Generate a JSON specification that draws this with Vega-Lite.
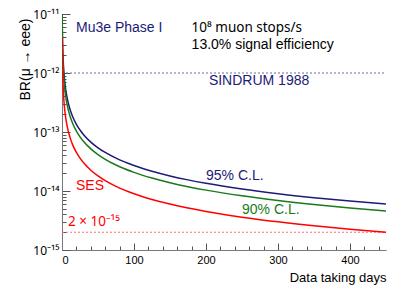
{
  "$schema": "https://vega.github.io/schema/vega-lite/v6.json",
  "width": 324,
  "height": 236,
  "autosize": {"type": "none"},
  "padding": {"left": 62, "top": 14, "right": 21, "bottom": 48},
  "background": "white",
  "config": {
    "view": {"stroke": null},
    "font": "Liberation Sans",
    "axis": {"labelFont": "Liberation Sans", "titleFont": "Liberation Sans", "grid": false}
  },
  "datasets": {
    "curves": [
      {"series": "95% C.L.", "days": 0.27, "br": 1e-11},
      {"series": "95% C.L.", "days": 0.35, "br": 7.714e-12},
      {"series": "95% C.L.", "days": 0.5, "br": 5.4e-12},
      {"series": "95% C.L.", "days": 0.7, "br": 3.857e-12},
      {"series": "95% C.L.", "days": 1, "br": 2.7e-12},
      {"series": "95% C.L.", "days": 1.5, "br": 1.8e-12},
      {"series": "95% C.L.", "days": 2, "br": 1.35e-12},
      {"series": "95% C.L.", "days": 3, "br": 9e-13},
      {"series": "95% C.L.", "days": 4, "br": 6.75e-13},
      {"series": "95% C.L.", "days": 5, "br": 5.4e-13},
      {"series": "95% C.L.", "days": 6, "br": 4.5e-13},
      {"series": "95% C.L.", "days": 7.5, "br": 3.6e-13},
      {"series": "95% C.L.", "days": 10, "br": 2.7e-13},
      {"series": "95% C.L.", "days": 12, "br": 2.25e-13},
      {"series": "95% C.L.", "days": 15, "br": 1.8e-13},
      {"series": "95% C.L.", "days": 20, "br": 1.35e-13},
      {"series": "95% C.L.", "days": 25, "br": 1.08e-13},
      {"series": "95% C.L.", "days": 30, "br": 9e-14},
      {"series": "95% C.L.", "days": 40, "br": 6.75e-14},
      {"series": "95% C.L.", "days": 50, "br": 5.4e-14},
      {"series": "95% C.L.", "days": 60, "br": 4.5e-14},
      {"series": "95% C.L.", "days": 75, "br": 3.6e-14},
      {"series": "95% C.L.", "days": 100, "br": 2.7e-14},
      {"series": "95% C.L.", "days": 125, "br": 2.16e-14},
      {"series": "95% C.L.", "days": 150, "br": 1.8e-14},
      {"series": "95% C.L.", "days": 175, "br": 1.543e-14},
      {"series": "95% C.L.", "days": 200, "br": 1.35e-14},
      {"series": "95% C.L.", "days": 250, "br": 1.08e-14},
      {"series": "95% C.L.", "days": 300, "br": 9e-15},
      {"series": "95% C.L.", "days": 350, "br": 7.714e-15},
      {"series": "95% C.L.", "days": 400, "br": 6.75e-15},
      {"series": "95% C.L.", "days": 450, "br": 6e-15},
      {"series": "90% C.L.", "days": 0.21, "br": 9.857e-12},
      {"series": "90% C.L.", "days": 0.25, "br": 8.28e-12},
      {"series": "90% C.L.", "days": 0.35, "br": 5.914e-12},
      {"series": "90% C.L.", "days": 0.5, "br": 4.14e-12},
      {"series": "90% C.L.", "days": 0.7, "br": 2.957e-12},
      {"series": "90% C.L.", "days": 1, "br": 2.07e-12},
      {"series": "90% C.L.", "days": 1.5, "br": 1.38e-12},
      {"series": "90% C.L.", "days": 2, "br": 1.035e-12},
      {"series": "90% C.L.", "days": 3, "br": 6.9e-13},
      {"series": "90% C.L.", "days": 4, "br": 5.175e-13},
      {"series": "90% C.L.", "days": 5, "br": 4.14e-13},
      {"series": "90% C.L.", "days": 6, "br": 3.45e-13},
      {"series": "90% C.L.", "days": 7.5, "br": 2.76e-13},
      {"series": "90% C.L.", "days": 10, "br": 2.07e-13},
      {"series": "90% C.L.", "days": 12, "br": 1.725e-13},
      {"series": "90% C.L.", "days": 15, "br": 1.38e-13},
      {"series": "90% C.L.", "days": 20, "br": 1.035e-13},
      {"series": "90% C.L.", "days": 25, "br": 8.28e-14},
      {"series": "90% C.L.", "days": 30, "br": 6.9e-14},
      {"series": "90% C.L.", "days": 40, "br": 5.175e-14},
      {"series": "90% C.L.", "days": 50, "br": 4.14e-14},
      {"series": "90% C.L.", "days": 60, "br": 3.45e-14},
      {"series": "90% C.L.", "days": 75, "br": 2.76e-14},
      {"series": "90% C.L.", "days": 100, "br": 2.07e-14},
      {"series": "90% C.L.", "days": 125, "br": 1.656e-14},
      {"series": "90% C.L.", "days": 150, "br": 1.38e-14},
      {"series": "90% C.L.", "days": 175, "br": 1.183e-14},
      {"series": "90% C.L.", "days": 200, "br": 1.035e-14},
      {"series": "90% C.L.", "days": 250, "br": 8.28e-15},
      {"series": "90% C.L.", "days": 300, "br": 6.9e-15},
      {"series": "90% C.L.", "days": 350, "br": 5.914e-15},
      {"series": "90% C.L.", "days": 400, "br": 5.175e-15},
      {"series": "90% C.L.", "days": 450, "br": 4.6e-15},
      {"series": "SES", "days": 0.225, "br": 4e-12},
      {"series": "SES", "days": 0.25, "br": 3.6e-12},
      {"series": "SES", "days": 0.35, "br": 2.571e-12},
      {"series": "SES", "days": 0.5, "br": 1.8e-12},
      {"series": "SES", "days": 0.7, "br": 1.286e-12},
      {"series": "SES", "days": 1, "br": 9e-13},
      {"series": "SES", "days": 1.5, "br": 6e-13},
      {"series": "SES", "days": 2, "br": 4.5e-13},
      {"series": "SES", "days": 3, "br": 3e-13},
      {"series": "SES", "days": 4, "br": 2.25e-13},
      {"series": "SES", "days": 5, "br": 1.8e-13},
      {"series": "SES", "days": 6, "br": 1.5e-13},
      {"series": "SES", "days": 7.5, "br": 1.2e-13},
      {"series": "SES", "days": 10, "br": 9e-14},
      {"series": "SES", "days": 12, "br": 7.5e-14},
      {"series": "SES", "days": 15, "br": 6e-14},
      {"series": "SES", "days": 20, "br": 4.5e-14},
      {"series": "SES", "days": 25, "br": 3.6e-14},
      {"series": "SES", "days": 30, "br": 3e-14},
      {"series": "SES", "days": 40, "br": 2.25e-14},
      {"series": "SES", "days": 50, "br": 1.8e-14},
      {"series": "SES", "days": 60, "br": 1.5e-14},
      {"series": "SES", "days": 75, "br": 1.2e-14},
      {"series": "SES", "days": 100, "br": 9e-15},
      {"series": "SES", "days": 125, "br": 7.2e-15},
      {"series": "SES", "days": 150, "br": 6e-15},
      {"series": "SES", "days": 175, "br": 5.143e-15},
      {"series": "SES", "days": 200, "br": 4.5e-15},
      {"series": "SES", "days": 250, "br": 3.6e-15},
      {"series": "SES", "days": 300, "br": 3e-15},
      {"series": "SES", "days": 350, "br": 2.571e-15},
      {"series": "SES", "days": 400, "br": 2.25e-15},
      {"series": "SES", "days": 450, "br": 2e-15}
    ],
    "refs": [
      {"series": "SINDRUM line", "br": 1e-12, "start": 0, "end": 450},
      {"series": "SES line", "br": 2e-15, "start": 0, "end": 450}
    ],
    "notes": [
      {"series": "95% C.L.", "label": "Mu3e Phase I", "days": 19.4, "br": 5.8e-12},
      {"series": "text", "label": "13.0% signal efficiency", "days": 180, "br": 2.98e-12},
      {"series": "95% C.L.", "label": "SINDRUM 1988", "days": 204, "br": 7.3e-13},
      {"series": "95% C.L.", "label": "95% C.L.", "days": 200, "br": 1.79e-14},
      {"series": "90% C.L.", "label": "90% C.L.", "days": 250, "br": 4.76e-15},
      {"series": "SES", "label": "SES", "days": 19.4, "br": 1.22e-14}
    ],
    "supnotes": [
      {"series": "text", "label": "10⁸ muon stops/s", "days": 180, "br": 5.8e-12},
      {"series": "SES", "label": "2 × 10⁻¹⁵", "days": 8.3, "br": 2.99e-15}
    ]
  },
  "resolve": {"axis": {"x": "independent", "y": "independent"}},
  "layer": [
    {
      "data": {"name": "refs"},
      "mark": {"type": "rule", "strokeDash": [2, 2], "strokeWidth": 1},
      "encoding": {
        "y": {"field": "br", "type": "quantitative",
          "scale": {"type": "log", "domain": [1e-15, 1e-11], "nice": false},
          "axis": {"orient": "left", "values": [2e-15,3e-15,4e-15,5e-15,6e-15,7e-15,8e-15,9e-15,2e-14,3e-14,4e-14,5e-14,6e-14,7e-14,8e-14,9e-14,2e-13,3e-13,4e-13,5e-13,6e-13,7e-13,8e-13,9e-13,2e-12,3e-12,4e-12,5e-12,6e-12,7e-12,8e-12,9e-12],
            "labels": false, "domain": false, "title": null, "tickSize": -4, "tickColor": "#555", "tickWidth": 1}},
        "x": {"field": "start", "type": "quantitative",
          "scale": {"domain": [0, 450], "nice": false},
          "axis": {"orient": "bottom", "values": [20,40,60,80,120,140,160,180,220,240,260,280,320,340,360,380,420,440],
            "labels": false, "domain": false, "title": null, "tickSize": -4, "tickColor": "#555", "tickWidth": 1}},
        "x2": {"field": "end"},
        "color": {"field": "series", "type": "nominal", "legend": null,
          "scale": {"domain": ["95% C.L.", "90% C.L.", "SES", "text", "SINDRUM line", "SES line"],
            "range": ["#1b1b78", "#1a7a1a", "#ff0000", "#000000", "#6b6b9e", "#ff6b6b"]}}
      }
    },
    {
      "data": {"name": "curves"},
      "mark": {"type": "line", "strokeWidth": 1.5, "interpolate": "monotone", "clip": true},
      "encoding": {
        "x": {"field": "days", "type": "quantitative",
          "scale": {"domain": [0, 450], "nice": false},
          "axis": {"orient": "bottom", "values": [0, 100, 200, 300, 400], "tickSize": -7, "tickColor": "#555", "tickWidth": 1,
            "domainColor": "#777", "domainWidth": 1, "labelFontSize": 11, "labelColor": "#000", "labelPadding": 11,
            "title": "Data taking days", "titleFontSize": 13, "titleFontWeight": "normal", "titleColor": "#000",
            "titleAnchor": "end", "titleAlign": "right", "titleBaseline": "middle", "titleX": 324, "titleY": 27}},
        "y": {"field": "br", "type": "quantitative",
          "scale": {"type": "log", "domain": [1e-15, 1e-11], "nice": false},
          "axis": {"orient": "left", "values": [1e-15, 1e-14, 1e-13, 1e-12, 1e-11], "tickSize": -8, "tickColor": "#555", "tickWidth": 1,
            "domainColor": "#777", "domainWidth": 1, "labelFont": "Noto Sans", "labelFontSize": 12, "labelColor": "#000", "labelPadding": 11,
            "labelExpr": "datum.value < 5e-15 ? '10⁻¹⁵' : datum.value < 5e-14 ? '10⁻¹⁴' : datum.value < 5e-13 ? '10⁻¹³' : datum.value < 5e-12 ? '10⁻¹²' : '10⁻¹¹'",
            "title": "BR(μ → eee)", "titleFontSize": 14, "titleFontWeight": "normal", "titleColor": "#000",
            "titleAngle": -90, "titleAlign": "right", "titleBaseline": "middle", "titleX": -37, "titleY": 4}},
        "color": {"field": "series", "type": "nominal", "legend": null,
          "scale": {"domain": ["95% C.L.", "90% C.L.", "SES", "text", "SINDRUM line", "SES line"],
            "range": ["#1b1b78", "#1a7a1a", "#ff0000", "#000000", "#6b6b9e", "#ff6b6b"]}}
      }
    },
    {
      "data": {"name": "notes"},
      "mark": {"type": "text", "align": "left", "baseline": "middle", "fontSize": 14, "font": "Liberation Sans"},
      "encoding": {
        "x": {"field": "days", "type": "quantitative", "scale": {"domain": [0, 450], "nice": false}, "axis": null},
        "y": {"field": "br", "type": "quantitative", "scale": {"type": "log", "domain": [1e-15, 1e-11], "nice": false}, "axis": null},
        "text": {"field": "label"},
        "color": {"field": "series", "type": "nominal", "legend": null,
          "scale": {"domain": ["95% C.L.", "90% C.L.", "SES", "text", "SINDRUM line", "SES line"],
            "range": ["#1b1b78", "#1a7a1a", "#ff0000", "#000000", "#6b6b9e", "#ff6b6b"]}}
      }
    },
    {
      "data": {"name": "supnotes"},
      "mark": {"type": "text", "align": "left", "baseline": "middle", "fontSize": 13.5, "font": "Noto Sans"},
      "encoding": {
        "x": {"field": "days", "type": "quantitative", "scale": {"domain": [0, 450], "nice": false}, "axis": null},
        "y": {"field": "br", "type": "quantitative", "scale": {"type": "log", "domain": [1e-15, 1e-11], "nice": false}, "axis": null},
        "text": {"field": "label"},
        "color": {"field": "series", "type": "nominal", "legend": null,
          "scale": {"domain": ["95% C.L.", "90% C.L.", "SES", "text", "SINDRUM line", "SES line"],
            "range": ["#1b1b78", "#1a7a1a", "#ff0000", "#000000", "#6b6b9e", "#ff6b6b"]}}
      }
    }
  ]
}
